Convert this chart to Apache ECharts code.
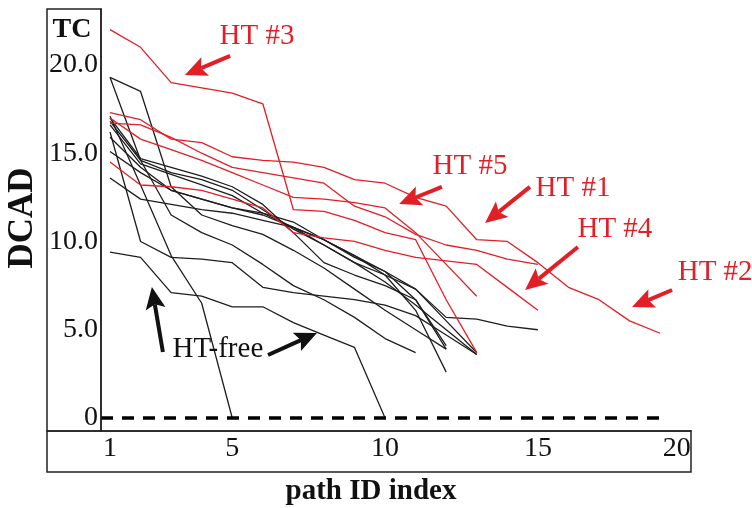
<!DOCTYPE html>
<html><head><meta charset="utf-8">
<script src="https://cdn.jsdelivr.net/npm/echarts@6/dist/echarts.min.js"></script>
<style>html,body{margin:0;padding:0;background:#fff}#c{width:752px;height:508px}</style>
</head><body><div id="c"></div>
<script>
// ---- data: DCAD per path ID index (index starts at 1) ----
const xTickValues = [1, 5, 10, 15, 20];
const yTickValues = [0, 5, 10, 15, 20];
const xRange = [0.705, 20.01];
const yRange = [-0.737, 23.17];
const baselineSpan = [0.705, 19.16];

// HT-infected chips (red)
const ht1 = [16.7,16.6,15.9,15.0,14.2,13.9,13.6,13.3,12.0,11.4,10.4,9.8,9.5,9.0,8.7];
const ht2 = [17.3,16.9,15.8,15.6,14.8,14.6,14.5,14.2,13.5,13.3,12.5,12.0,10.1,10.0,8.8,7.4,6.7,5.5,4.8];
const ht3 = [22.0,21.0,19.0,18.7,18.4,17.8,11.8,11.7,11.2,10.5,10.1,6.7,3.7];
const ht4 = [14.5,13.2,13.1,12.9,12.4,11.9,10.5,10.2,10.0,9.5,9.1,8.9,8.7,7.4,6.1];
const ht5 = [17.0,15.8,15.2,14.6,13.9,13.2,12.5,12.4,12.2,11.9,10.5,8.7,6.9];

// HT-free chips (black)
const free1 = [19.3,18.5,13.1,11.5,10.9,10.4,9.5,8.5,7.3,6.1,5.0,3.9];
const free2 = [17.1,13.2,9.2,6.5,0];
const free3 = [16.2,10.0,9.1,9.0,8.8,7.4,7.1,6.9,6.7,6.4,5.8,4.7,3.6];
const free4 = [9.4,9.1,7.1,6.9,6.3,6.3,5.4,4.7,4.0,0];
const free5 = [17.0,14.7,14.2,13.7,13.1,12.1,10.5,8.8,8.1,7.5,6.7,3.9];
const free6 = [16.8,14.6,13.9,13.5,12.9,11.8,10.7,9.8,8.8,7.7,6.4,5.0,3.6];
const free7 = [16.6,14.4,13.8,13.2,12.6,11.6,10.8,10.1,9.2,8.1,6.1,2.6];
const free8 = [15.9,14.2,12.9,12.4,11.9,11.5,10.8,9.8,8.8,8.1,7.3,5.5,3.7];
const free9 = [15.1,13.9,12.9,12.4,11.9,11.6,11.1,10.1,9.1,8.3,6.7,4.1];
const free10 = [13.6,12.4,12.1,11.8,11.6,11.2,10.8,10.1,9.2,8.3,7.3,5.7,5.6,5.2,5.0];
const free11 = [19.3,14.6,11.5,10.5,9.8,8.7,7.5,6.7,5.7,4.5,3.7];

// annotations (data coordinates)
const annoTexts = ['HT #3','HT #5','HT #1','HT #4','HT #2','HT-free'];
const annoAt = [[5.81,21.64],[12.78,14.28],[16.15,13.03],[17.52,10.71],[20.80,8.27],[4.53,3.91]];
const annoIsRed = [true,true,true,true,true,false];
const arrowFrom = [[4.93,20.51],[11.86,13.09],[14.74,13.09],[16.31,9.69],[19.39,7.25],[2.73,3.74],[6.17,3.57]];
const arrowTo   = [[3.45,19.43],[10.46,12.12],[13.27,11.05],[14.58,7.25],[18.08,6.29],[2.37,7.42],[7.77,4.82]];
const arrowIsRed = [true,true,true,true,true,false,false];

// ---- chart ----
const FONT = "'Liberation Serif','Times New Roman',serif";
const RED = '#e21f26';
const BLACK = '#1e1e1e';
const chart = echarts.init(document.getElementById('c'));

const freeLines = [free1,free2,free3,free4,free5,free6,free7,free8,free9,free10,free11];
const htLines = [ht1,ht2,ht3,ht4,ht5];
const htNames = ['HT #1','HT #2','HT #3','HT #4','HT #5'];
const series = [];
freeLines.forEach((arr,k) => series.push({
  name:'HT-free '+(k+1), type:'line', symbol:'none', silent:true,
  data: arr.map((v,i)=>[i+1,v]), lineStyle:{color:BLACK,width:1.3}
}));
htLines.forEach((arr,k) => series.push({
  name:htNames[k], type:'line', symbol:'none', silent:true,
  data: arr.map((v,i)=>[i+1,v]), lineStyle:{color:RED,width:1.3}
}));
series.push({
  name:'zero', type:'line', symbol:'none', silent:true,
  data: baselineSpan.map(x=>[x,0]), lineStyle:{color:'#000',width:3.5,type:[12,9]}
});

chart.setOption({
  animation:false,
  backgroundColor:'#fff',
  grid:{left:101,right:61,top:9,bottom:77},
  xAxis:{type:'value',min:xRange[0],max:xRange[1],
    axisLine:{show:true,onZero:false,lineStyle:{color:'#222',width:1.5}},
    axisTick:{show:false},splitLine:{show:false},
    axisLabel:{customValues:xTickValues,fontSize:28,fontFamily:FONT,color:'#111',margin:4,alignMaxLabel:'right'}},
  yAxis:{type:'value',min:yRange[0],max:yRange[1],
    axisLine:{show:true,onZero:false,lineStyle:{color:'#222',width:1.5}},
    axisTick:{show:false},splitLine:{show:false},
    axisLabel:{customValues:yTickValues,fontSize:28,fontFamily:FONT,color:'#111',margin:3,
      formatter:v=> v===0 ? '0' : v.toFixed(1)}},
  series
});

function px(p){ return chart.convertToPixel({gridIndex:0}, p); }
const bl = px([xRange[0], yRange[0]]);
const tr = px([xRange[1], yRange[1]]);
const g = [];
g.push({type:'rect',shape:{x:47,y:tr[1],width:bl[0]-47,height:bl[1]-tr[1]},style:{fill:'none',stroke:'#222',lineWidth:1.5},z:50});
g.push({type:'rect',shape:{x:47,y:bl[1],width:tr[0]-47,height:41},style:{fill:'none',stroke:'#222',lineWidth:1.5},z:50});
g.push({type:'text',x:72,y:30,style:{text:'TC',fontSize:28,fontWeight:'bold',fontFamily:FONT,fill:'#111',align:'center',verticalAlign:'middle'},z:60});
g.push({type:'text',x:371,y:492,style:{text:'path ID index',fontSize:29,fontWeight:'bold',fontFamily:FONT,fill:'#111',align:'center',verticalAlign:'middle'},z:60});
g.push({type:'text',x:23,y:218,rotation:Math.PI/2,style:{text:'DCAD',fontSize:35,fontWeight:'bold',fontFamily:FONT,fill:'#111',align:'center',verticalAlign:'middle'},z:60});

annoTexts.forEach((t,i)=>{
  const p = px(annoAt[i]);
  g.push({type:'text',x:p[0],y:p[1],style:{text:t,fontSize:29,fontFamily:FONT,fill:annoIsRed[i]?RED:'#111',align:'center',verticalAlign:'middle'},z:60});
});
arrowFrom.forEach((f,i)=>{
  const p0 = px(f), p1 = px(arrowTo[i]);
  const col = arrowIsRed[i] ? RED : '#111';
  const dx=p1[0]-p0[0], dy=p1[1]-p0[1], L=Math.hypot(dx,dy), ux=dx/L, uy=dy/L, nx=-uy, ny=ux;
  const hl=22, hw=10;
  const bx=p1[0]-ux*hl, by=p1[1]-uy*hl;
  const mx=p1[0]-ux*hl*0.8, my=p1[1]-uy*hl*0.8;
  g.push({type:'line',shape:{x1:p0[0],y1:p0[1],x2:mx,y2:my},style:{stroke:col,lineWidth:4},z:60});
  g.push({type:'polygon',shape:{points:[[p1[0],p1[1]],[bx+nx*hw,by+ny*hw],[mx,my],[bx-nx*hw,by-ny*hw]]},style:{fill:col},z:60});
});
chart.setOption({graphic:g});
</script>
</body></html>
